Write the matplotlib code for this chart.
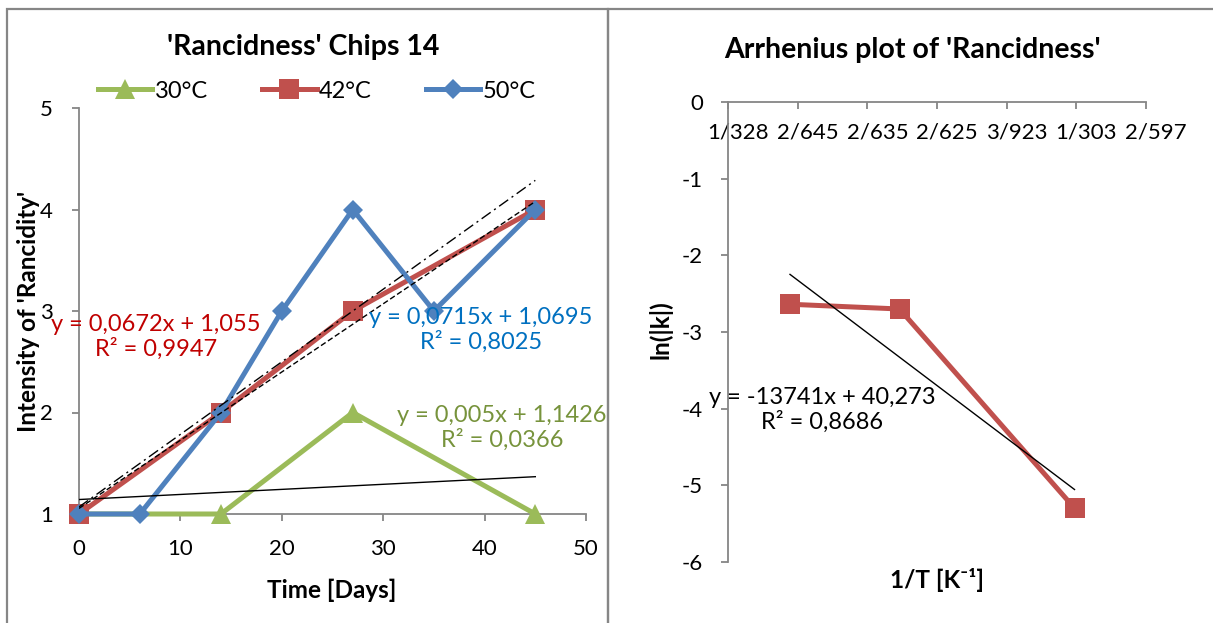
import matplotlib
matplotlib.use("Agg")
import matplotlib.pyplot as plt
import matplotlib.transforms as mtransforms
from matplotlib.patches import Rectangle

# ---------------- data ----------------
days_30 = [0, 14, 27, 45]
vals_30 = [1, 1, 2, 1]
days_42 = [0, 14, 27, 45]
vals_42 = [1, 2, 3, 4]
days_50 = [0, 6, 14, 20, 27, 35, 45]
vals_50 = [1, 1, 2, 3, 4, 3, 4]
series_labels = ["30°C", "42°C", "50°C"]

# trend line coefficients (slope, intercept) and labels
trend_30 = (0.005, 1.1426)
trend_42 = (0.0672, 1.055)
trend_50 = (0.0715, 1.0695)
trend_x_range = (0, 45)
eq_30 = "y = 0,005x + 1,1426\nR² = 0,0366"
eq_42 = "y = 0,0672x + 1,055\nR² = 0,9947"
eq_50 = "y = 0,0715x + 1,0695\nR² = 0,8025"

left_xticks = [0, 10, 20, 30, 40, 50]
left_yticks = [1, 2, 3, 4, 5]

# Arrhenius
inv_T = [0.0030945, 0.0031731, 0.0032987]
ln_k = [-2.638, -2.700, -5.298]
arr_trend = (-13741, 40.273)
arr_eq = "y = -13741x + 40,273\nR² = 0,8686"
right_xticks = [0.00305, 0.00310, 0.00315, 0.00320, 0.00325, 0.00330, 0.00335]
right_xticklabels = ["1/328", "2/645", "2/635", "2/625", "3/923", "1/303", "2/597"]
right_yticks = [0, -1, -2, -3, -4, -5, -6]

# ---------------- style ----------------
FAM = ["Lato", "DejaVu Sans"]
plt.rcParams["font.family"] = FAM
plt.rcParams["axes.unicode_minus"] = False
GREEN = "#9BBB59"
RED = "#C0504D"
BLUE = "#4F81BD"
GRAY = "#868686"
W, H = 1213, 623
fig = plt.figure(figsize=(W / 100, H / 100), dpi=100)

def fx(px):
    return px / W

def fy(py):
    return 1 - py / H

# chart frames
fig.patches.append(Rectangle((fx(6.5), fy(640)), fx(608 - 6.5), fy(8.5) - fy(640),
                             transform=fig.transFigure, fill=False, ec=GRAY, lw=1.6))
fig.patches.append(Rectangle((fx(608), fy(640)), fx(1230 - 608), fy(8.5) - fy(640),
                             transform=fig.transFigure, fill=False, ec=GRAY, lw=1.6))

LW = 3.6
MS = 14.4
TICK_FS = 16
EQ_FS = 17
TITLE_FS = 20.5
LAB_FS = 17.5

def style_axes(ax):
    for s in ["top", "right"]:
        ax.spines[s].set_visible(False)
    for s in ["left", "bottom"]:
        ax.spines[s].set_color(GRAY)
        ax.spines[s].set_linewidth(1.3)
    ax.tick_params(colors=GRAY, labelcolor="black", length=5, width=1.3,
                   labelsize=TICK_FS, direction="out")
    ax.set_facecolor("none")

# ---------------- left chart ----------------
axL = fig.add_axes([fx(79), fy(514), fx(586 - 79), fy(108) - fy(514)])
style_axes(axL)
axL.set_xlim(0, 50)
axL.set_ylim(1, 5)
axL.set_xticks(left_xticks)
axL.set_yticks(left_yticks)
axL.tick_params(axis="y", pad=14)
axL.tick_params(axis="x", pad=13)

l30, = axL.plot(days_30, vals_30, color=GREEN, lw=LW, marker="^", ms=MS, mew=0,
                solid_joinstyle="miter", clip_on=False, zorder=3)
l42, = axL.plot(days_42, vals_42, color=RED, lw=LW, marker="s", ms=MS, mew=0,
                solid_joinstyle="miter", clip_on=False, zorder=4)
l50, = axL.plot(days_50, vals_50, color=BLUE, lw=LW, marker="D", ms=MS / 1.35, mew=0,
                solid_joinstyle="miter", clip_on=False, zorder=5)

tx = list(trend_x_range)
axL.plot(tx, [trend_30[0] * x + trend_30[1] for x in tx], color="black", lw=1.0, zorder=6)
axL.plot(tx, [trend_42[0] * x + trend_42[1] for x in tx], color="black", lw=1.0,
         ls=(0, (4, 2)), zorder=6)
axL.plot(tx, [trend_50[0] * x + trend_50[1] for x in tx], color="black", lw=1.0,
         ls=(0, (8, 3, 1.5, 3)), zorder=6)

fig.text(fx(156), fy(337), eq_42, color="#C00000", fontsize=EQ_FS, ha="center",
         va="center", multialignment="center", linespacing=1.15, zorder=7)
fig.text(fx(481), fy(330), eq_50, color="#0070C0", fontsize=EQ_FS, ha="center",
         va="center", multialignment="center", linespacing=1.15, zorder=7)
fig.text(fx(502), fy(428), eq_30, color="#77933C", fontsize=EQ_FS, ha="center",
         va="center", multialignment="center", linespacing=1.15, zorder=7)

fig.text(fx(303), fy(47), "'Rancidness' Chips 14", fontsize=TITLE_FS, fontweight="bold",
         ha="center", va="center")
fig.text(fx(29), fy(311), "Intensity of 'Rancidity'", fontsize=LAB_FS, fontweight="bold",
         ha="center", va="center", rotation=90)
fig.text(fx(332), fy(590), "Time [Days]", fontsize=LAB_FS, fontweight="bold",
         ha="center", va="center")

fig.legend([l30, l42, l50], series_labels, loc="center",
           bbox_to_anchor=(fx(317), fy(91)), ncol=3, frameon=False,
           fontsize=17, handlelength=2.3, handletextpad=0.1, columnspacing=2.3,
           borderpad=0, markerscale=1.0)

# ---------------- right chart ----------------
axR = fig.add_axes([fx(728), fy(562), fx(1146 - 728), fy(102) - fy(562)])
style_axes(axR)
axR.spines["bottom"].set_position(("data", 0))
axR.set_xlim(right_xticks[0], right_xticks[-1])
axR.set_ylim(-6, 0)
axR.set_xticks(right_xticks)
axR.set_xticklabels(right_xticklabels)
axR.set_yticks(right_yticks)
axR.tick_params(axis="y", pad=13)
axR.tick_params(axis="x", pad=10)
shift = mtransforms.ScaledTranslation(10 / 100, 0, fig.dpi_scale_trans)
for lab in axR.get_xticklabels():
    lab.set_transform(lab.get_transform() + shift)

axR.plot(inv_T, ln_k, color=RED, lw=LW, marker="s", ms=MS, mew=0,
         solid_joinstyle="miter", clip_on=False, zorder=4)
axR.plot([inv_T[0], inv_T[-1]],
         [arr_trend[0] * inv_T[0] + arr_trend[1], arr_trend[0] * inv_T[-1] + arr_trend[1]],
         color="black", lw=1.0, zorder=6)

fig.text(fx(822), fy(410), arr_eq, color="black", fontsize=EQ_FS, ha="center",
         va="center", multialignment="center", linespacing=1.15, zorder=7)
fig.text(fx(912), fy(50), "Arrhenius plot of 'Rancidness'", fontsize=TITLE_FS,
         fontweight="bold", ha="center", va="center")
fig.text(fx(660), fy(330), "ln(|k|)", fontsize=LAB_FS, fontweight="bold",
         ha="center", va="center", rotation=90)
fig.text(fx(937), fy(580), "1/T [K⁻¹]", fontsize=LAB_FS, fontweight="bold",
         ha="center", va="center", family=FAM)

fig.savefig("out.png", dpi=100)
